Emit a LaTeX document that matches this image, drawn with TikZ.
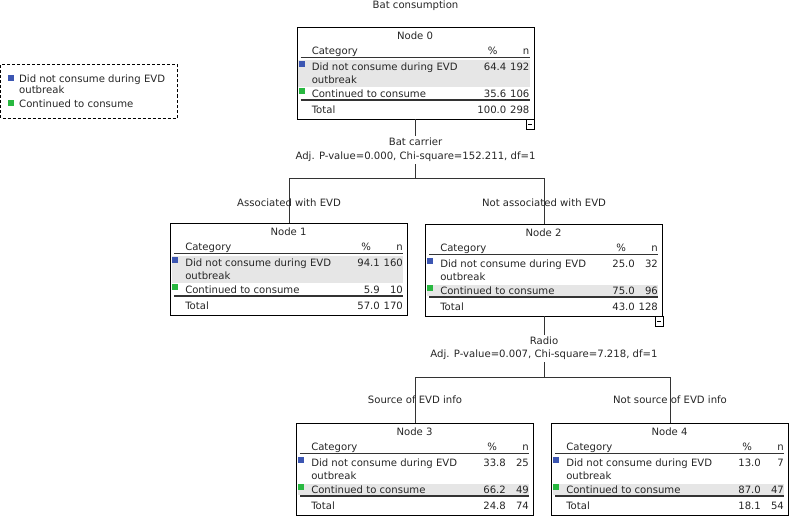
\documentclass[tikz,border=0pt]{standalone}
\usepackage{fontspec}
\setmainfont{DejaVu Sans}

\definecolor{catblue}{RGB}{60,86,178}
\definecolor{catgreen}{RGB}{40,184,64}
\definecolor{rowgray}{RGB}{230,230,230}

% one category table inside box n#1; #2 = shaded row
\newcommand{\cattable}[8]{%
  \begin{scope}[shift={(n#1.north west)}]
    \ifnum#2=1\relax
      \fill[rowgray] (1.5,33) rectangle (233,60);
    \else
      \fill[rowgray] (1.5,61) rectangle (233,72.5);
    \fi
    \draw[rule] (4,30.5) -- (233,30.5);
    \draw[rule, line width=1.6pt] (4,73.5) -- (233,73.5);
    \fill[catblue] (2,34) rectangle (8,40);
    \fill[catgreen] (2,61) rectangle (8,67);
    \node[cell, anchor=base] (h#1) at (118.5,12.5) {Node #1};
    \node[cell, anchor=base west] (c#1) at (15,28) {Category};
    \node[cell, anchor=base] (q#1) at (196,28) {\%};
    \node[cell, anchor=base east] (k#1) at (233,28) {n};
    \node[cell, anchor=base west] (a#1) at (15,44) {Did not consume during EVD};
    \node[cell, anchor=base west] (b#1) at (15,57) {outbreak};
    \node[cell, anchor=base west] (g#1) at (15,70.5) {Continued to consume};
    \node[cell, anchor=base west] (s#1) at (15,86.5) {Total};
    \node[cell, anchor=base east] (ap#1) at (210,44) {#3};
    \node[cell, anchor=base east] (an#1) at (233,44) {#4};
    \node[cell, anchor=base east] (gp#1) at (210,70.5) {#5};
    \node[cell, anchor=base east] (gn#1) at (233,70.5) {#6};
    \node[cell, anchor=base east] (sp#1) at (210,86.5) {#7};
    \node[cell, anchor=base east] (sn#1) at (233,86.5) {#8};
  \end{scope}}

\begin{document}
\begin{tikzpicture}[x=1pt, y=-1pt,
    every node/.style={font=\fontsize{10.1}{12}\selectfont, text=black!85},
    cell/.style={inner sep=0pt},
    lbl/.style={inner sep=2pt},
    treebox/.style={draw, line width=0.9pt, minimum width=237pt, minimum height=92pt, inner sep=0pt},
    rule/.style={line width=0.8pt, black!80},
    link/.style={line width=0.8pt, black!80}]
  \useasboundingbox (0,0) rectangle (791,516);

  % legend
  \draw[line width=1pt, dash pattern=on 3pt off 2pt] (0.5,65) rectangle (177,118);
  \fill[catblue] (8,75) rectangle (14,81);
  \fill[catgreen] (8,100) rectangle (14,106);
  \node[cell, anchor=base west] (l1) at (19,82.5) {Did not consume during EVD};
  \node[cell, anchor=base west] (l2) at (19,93.5) {outbreak};
  \node[cell, anchor=base west] (l3) at (19,107.5) {Continued to consume};

  % boxes
  \node[lbl] (t0) at (415.5,6) {Bat consumption};
  \node[treebox] (n0) at (415.5,73) {};
  \node[treebox] (n1) at (289,269) {};
  \node[treebox] (n2) at (544,270) {};
  \node[treebox] (n3) at (415,469) {};
  \node[treebox] (n4) at (670,469) {};

  \cattable{0}{1}{64.4}{192}{35.6}{106}{100.0}{298}
  \cattable{1}{1}{94.1}{160}{5.9}{10}{57.0}{170}
  \cattable{2}{2}{25.0}{32}{75.0}{96}{43.0}{128}
  \cattable{3}{2}{33.8}{25}{66.2}{49}{24.8}{74}
  \cattable{4}{2}{13.0}{7}{87.0}{47}{18.1}{54}

  % first split
  \node[lbl] (v0) at (415.5,142) {Bat carrier};
  \node[lbl] (s0) at (415.5,157) {Adj. P-value=0.000, Chi-square=152.211, df=1};
  \coordinate (j0) at (415.5,178);
  \draw[link] (n0) -- (v0);
  \draw[link] (s0) -- (j0) -| (n1);
  \draw[link] (j0) -| (n2);
  \node[lbl] (e1) at (289,203) {Associated with EVD};
  \node[lbl] (e2) at (544,203) {Not associated with EVD};

  % second split
  \node[lbl] (v2) at (544,341) {Radio};
  \node[lbl] (s2) at (544,355) {Adj. P-value=0.007, Chi-square=7.218, df=1};
  \coordinate (j2) at (544,377);
  \draw[link] (n2) -- (v2);
  \draw[link] (s2) -- (j2) -| (n3);
  \draw[link] (j2) -| (n4);
  \node[lbl] (e3) at (415,400) {Source of EVD info};
  \node[lbl] (e4) at (670,400) {Not source of EVD info};

  % collapse marks
  \draw[line width=0.8pt] ([xshift=-8pt]n0.south east) rectangle ++(8,10);
  \draw[line width=0.8pt] ([xshift=-6pt,yshift=-5pt]n0.south east) -- ++(4,0);
  \draw[line width=0.8pt] ([xshift=-8pt]n2.south east) rectangle ++(8,10);
  \draw[line width=0.8pt] ([xshift=-6pt,yshift=-5pt]n2.south east) -- ++(4,0);
\end{tikzpicture}
\end{document}
